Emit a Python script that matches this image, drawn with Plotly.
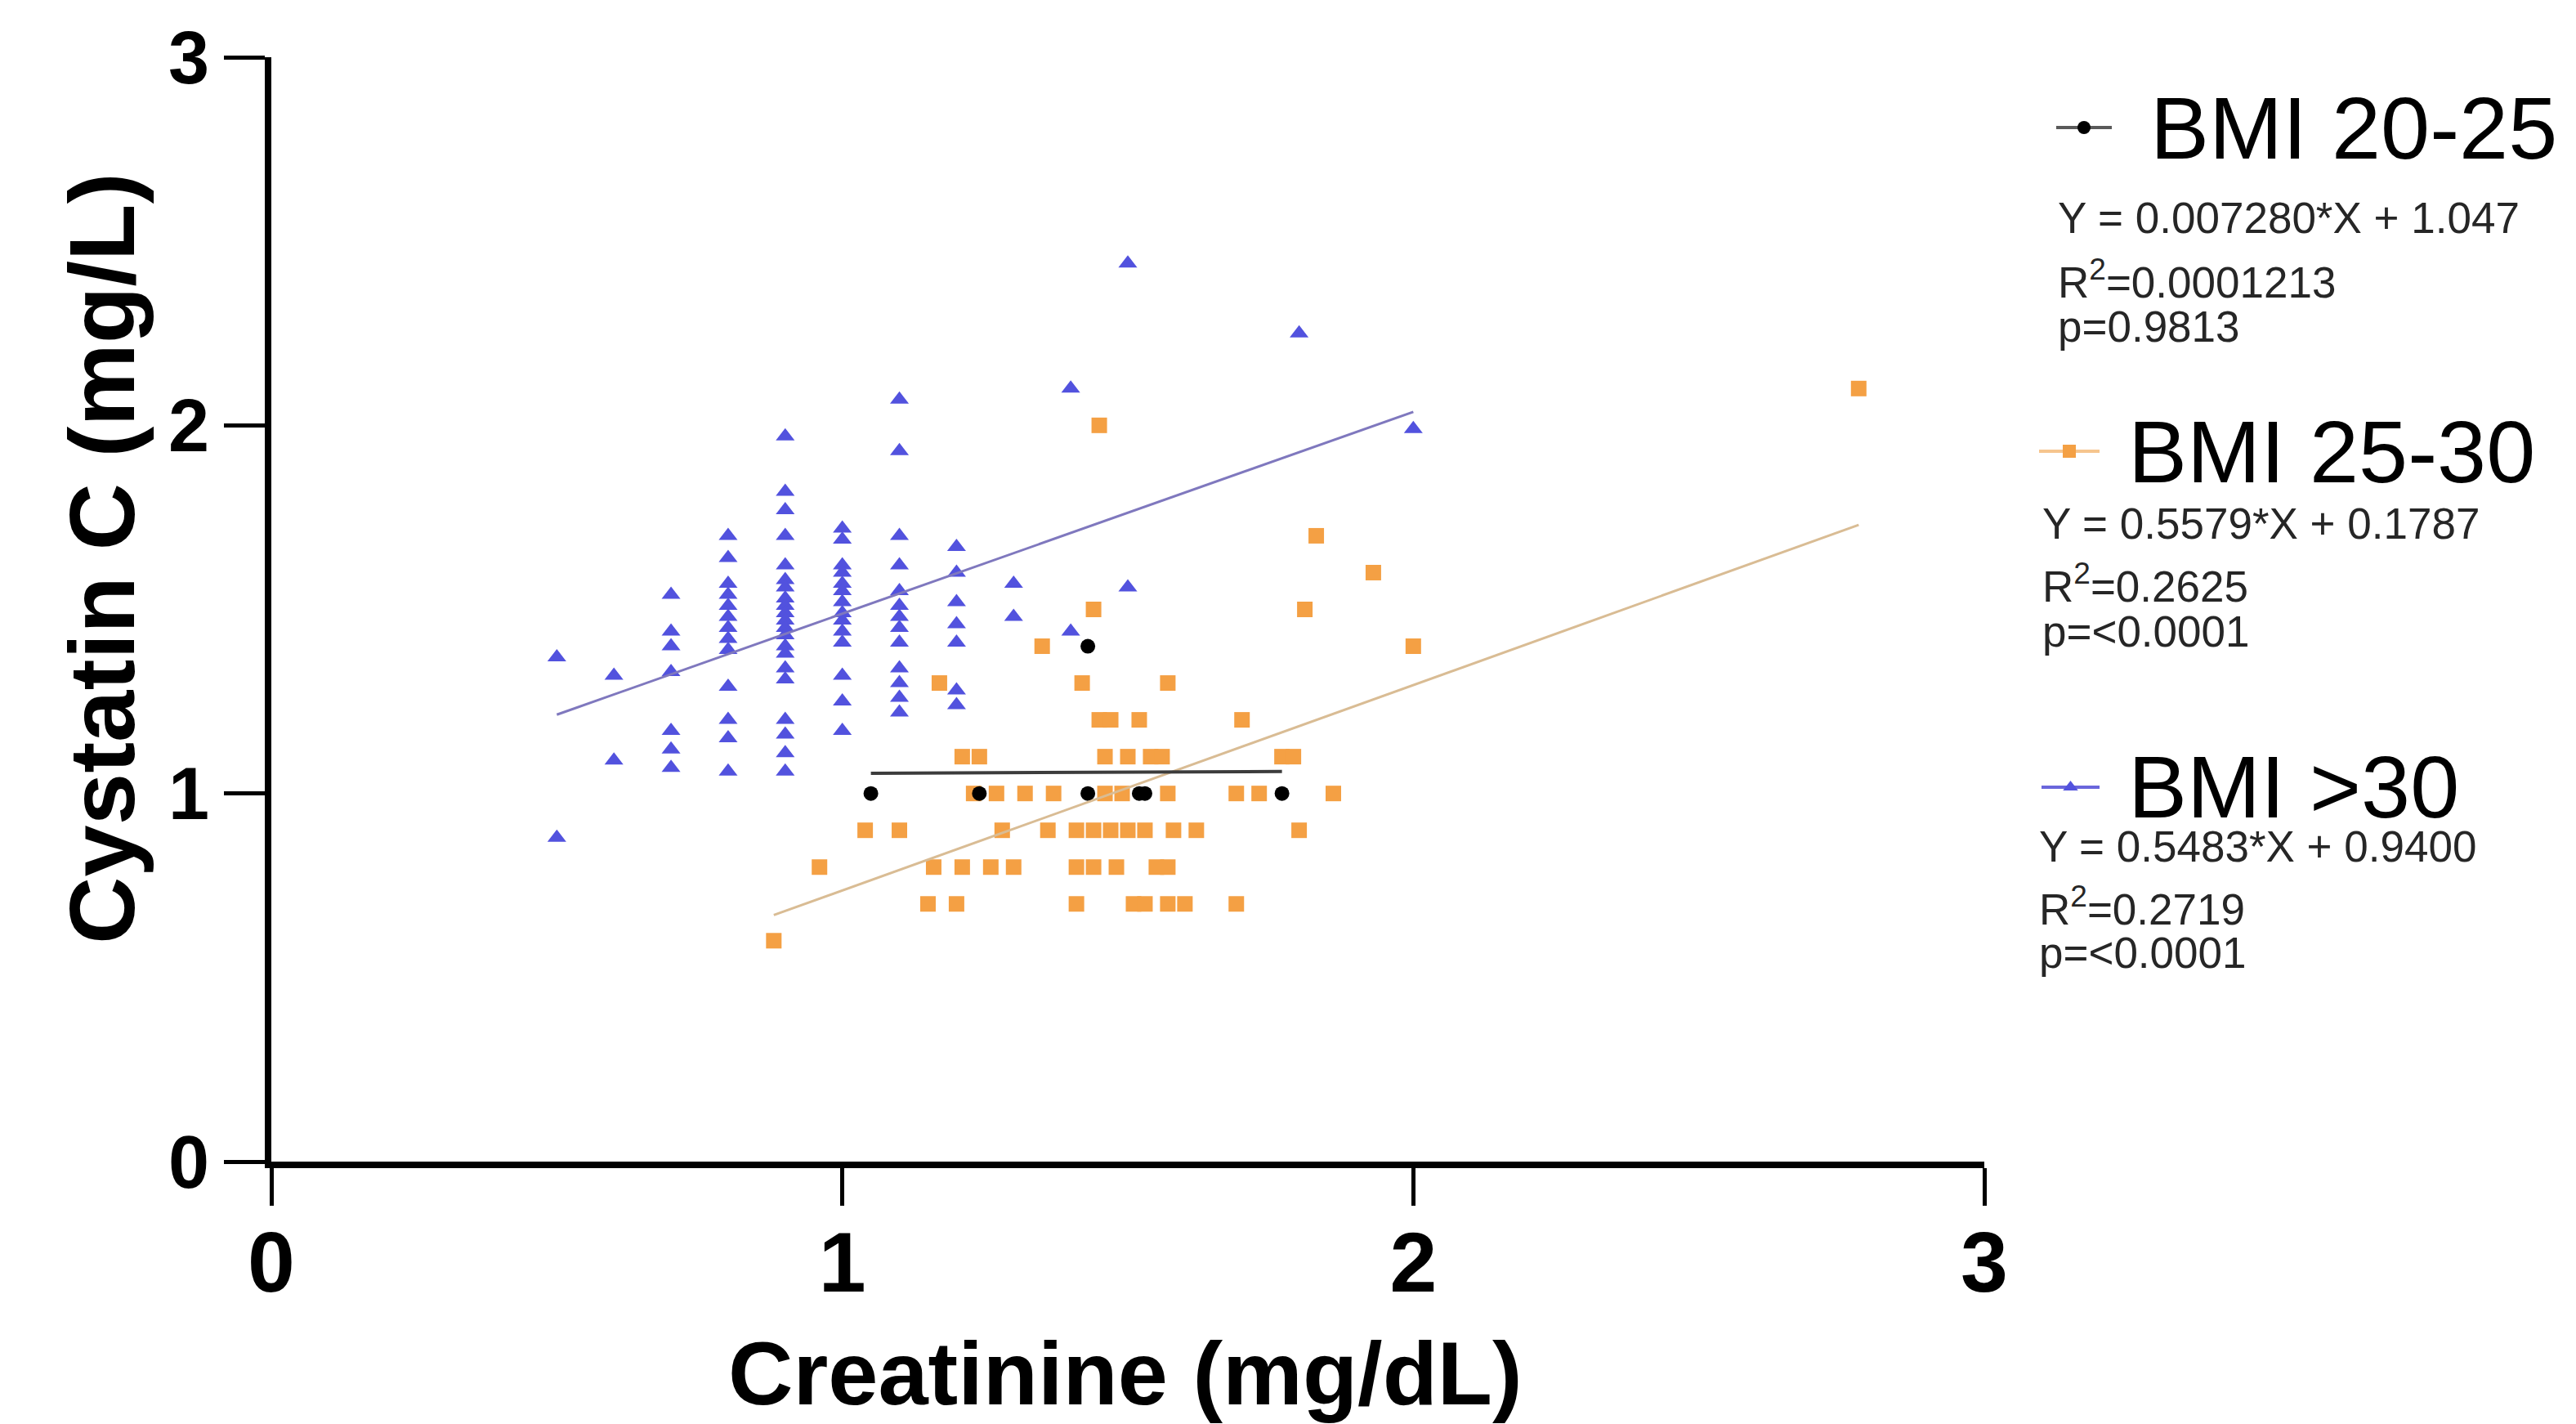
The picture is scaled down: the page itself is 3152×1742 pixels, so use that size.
import plotly.graph_objects as go

W, H = 3152, 1742

# ---------------- data ----------------
# BMI 20-25 (black circles)
bmi20_x = [1.05, 1.24, 1.43, 1.43, 1.52, 1.53, 1.77]
bmi20_y = [1.00, 1.00, 1.00, 1.40, 1.00, 1.00, 1.00]

# BMI 25-30 (orange squares)
bmi25_x = [0.88,
           1.15, 1.20, 1.41, 1.51, 1.53, 1.57, 1.60, 1.69,
           0.96, 1.16, 1.21, 1.26, 1.30, 1.41, 1.44, 1.48, 1.55, 1.57,
           1.04, 1.10, 1.28, 1.36, 1.41, 1.44, 1.47, 1.50, 1.53, 1.58, 1.62, 1.80,
           1.23, 1.27, 1.32, 1.37, 1.46, 1.49, 1.57, 1.69, 1.73, 1.86,
           1.21, 1.24, 1.46, 1.50, 1.54, 1.56, 1.77, 1.79,
           1.45, 1.47, 1.52, 1.70,
           1.17, 1.42, 1.57,
           1.35, 2.00,
           1.44, 1.81,
           1.93, 1.83, 1.45, 2.78]
bmi25_y = [0.60,
           0.70, 0.70, 0.70, 0.70, 0.70, 0.70, 0.70, 0.70,
           0.80, 0.80, 0.80, 0.80, 0.80, 0.80, 0.80, 0.80, 0.80, 0.80,
           0.90, 0.90, 0.90, 0.90, 0.90, 0.90, 0.90, 0.90, 0.90, 0.90, 0.90, 0.90,
           1.00, 1.00, 1.00, 1.00, 1.00, 1.00, 1.00, 1.00, 1.00, 1.00,
           1.10, 1.10, 1.10, 1.10, 1.10, 1.10, 1.10, 1.10,
           1.20, 1.20, 1.20, 1.20,
           1.30, 1.30, 1.30,
           1.40, 1.40,
           1.50, 1.50,
           1.60, 1.70, 2.00, 2.10]

# BMI >30 (blue triangles)
bmi30_x = [0.5, 0.5,
           0.6, 0.6,
           0.7, 0.7, 0.7, 0.7, 0.7, 0.7, 0.7,
           0.8, 0.8, 0.8, 0.8, 0.8, 0.8, 0.8, 0.8, 0.8, 0.8, 0.8, 0.8, 0.8,
           0.9, 0.9, 0.9, 0.9, 0.9, 0.9, 0.9, 0.9, 0.9, 0.9, 0.9, 0.9, 0.9, 0.9, 0.9, 0.9, 0.9, 0.9, 0.9, 0.9, 0.9,
           1.0, 1.0, 1.0, 1.0, 1.0, 1.0, 1.0, 1.0, 1.0, 1.0, 1.0, 1.0, 1.0, 1.0,
           1.1, 1.1, 1.1, 1.1, 1.1, 1.1, 1.1, 1.1, 1.1, 1.1, 1.1, 1.1, 1.1,
           1.2, 1.2, 1.2, 1.2, 1.2, 1.2, 1.2,
           1.3, 1.3,
           1.4, 1.4,
           1.5, 1.5,
           1.8, 2.0]
bmi30_y = [1.37, 0.88,
           1.32, 1.09,
           1.54, 1.44, 1.40, 1.33, 1.17, 1.12, 1.07,
           1.70, 1.64, 1.57, 1.54, 1.51, 1.48, 1.45, 1.42, 1.39, 1.29, 1.20, 1.15, 1.06,
           1.97, 1.82, 1.77, 1.70, 1.62, 1.58, 1.56, 1.53, 1.51, 1.49, 1.47, 1.45, 1.43, 1.40, 1.38, 1.34, 1.31, 1.20, 1.16, 1.11, 1.06,
           1.72, 1.69, 1.62, 1.60, 1.57, 1.55, 1.52, 1.49, 1.47, 1.44, 1.41, 1.32, 1.25, 1.17,
           2.07, 1.93, 1.70, 1.62, 1.55, 1.51, 1.48, 1.45, 1.41, 1.34, 1.30, 1.26, 1.22,
           1.67, 1.60, 1.52, 1.46, 1.41, 1.28, 1.24,
           1.57, 1.48,
           2.10, 1.44,
           2.44, 1.56,
           2.25, 1.99]

# Linear fits (as reported in the figure)
group_names = ["BMI 20-25", "BMI 25-30", "BMI >30"]
fit_slope = [0.007280, 0.5579, 0.5483]
fit_intercept = [1.047, 0.1787, 0.9400]
fit_slope_txt = ["0.007280", "0.5579", "0.5483"]
fit_intercept_txt = ["1.047", "0.1787", "0.9400"]
fit_r2_txt = ["0.0001213", "0.2625", "0.2719"]
fit_p_txt = ["0.9813", "<0.0001", "<0.0001"]

axis_ticks = [0, 1, 2, 3]

# ---------------- styles ----------------
marker_colors = ["#000000", "#F4A044", "#5252DE"]
line_colors = ["#3C3C3C", "#D9BC94", "#7F78BE"]
legend_line_colors = ["#5A5A5A", "#F6C58E", "#6A66DC"]
symbols = ["circle", "square", "triangle-up"]
msizes = [18, 19, 20]
FONT = "Liberation Sans, Arial, sans-serif"

xs = [bmi20_x, bmi25_x, bmi30_x]
ys = [bmi20_y, bmi25_y, bmi30_y]

fig = go.Figure()

# draw order: BMI >30, BMI 25-30, BMI 20-25 (black on top)
for i in [2, 1, 0]:
    fig.add_trace(go.Scatter(
        x=xs[i], y=ys[i], mode="markers",
        marker=dict(symbol=symbols[i], size=msizes[i], color=marker_colors[i],
                    line=dict(width=0)),
        xaxis="x", yaxis="y", showlegend=False, hoverinfo="x+y"))
for i in [2, 1, 0]:
    x0, x1 = min(xs[i]), max(xs[i])
    fig.add_trace(go.Scatter(
        x=[x0, x1],
        y=[fit_slope[i] * x0 + fit_intercept[i], fit_slope[i] * x1 + fit_intercept[i]],
        mode="lines", line=dict(color=line_colors[i], width=4 if i == 0 else 3),
        xaxis="x", yaxis="y", showlegend=False, hoverinfo="skip"))

# ---------------- legend block (pixel layout) ----------------
leg_symbol = [(2516, 2584, 156), (2495, 2569, 552), (2498, 2569, 963)]
leg_label = [(2629, 156), (2602, 552), (2602, 962)]
leg_eq_left = [2516, 2497, 2493]
leg_eq_y = [(267, 342, 400), (640, 714, 772), (1035, 1108, 1165)]
leg_msizes = [16, 16, 16]

annotations = []


def px(x):
    return x / W


def py(y):
    return 1 - y / H


for i in range(3):
    xa, xb, yc = leg_symbol[i]
    fig.add_trace(go.Scatter(
        x=[xa, xb], y=[yc, yc], mode="lines",
        line=dict(color=legend_line_colors[i], width=4),
        xaxis="x2", yaxis="y2", showlegend=False, hoverinfo="skip"))
    fig.add_trace(go.Scatter(
        x=[(xa + xb) / 2], y=[yc], mode="markers",
        marker=dict(symbol=symbols[i], size=leg_msizes[i], color=marker_colors[i], line=dict(width=0)),
        xaxis="x2", yaxis="y2", showlegend=False, hoverinfo="skip"))
    lx, ly = leg_label[i]
    annotations.append(dict(
        x=px(lx), y=py(ly), xref="paper", yref="paper", xanchor="left", yanchor="middle",
        text=group_names[i].replace(">", "&gt;"), showarrow=False,
        font=dict(family=FONT, size=108, color="#000000")))
    lines = [
        f"Y = {fit_slope_txt[i]}*X + {fit_intercept_txt[i]}",
        f"R<sup>2</sup>={fit_r2_txt[i]}",
        "p=" + fit_p_txt[i].replace("<", "&lt;"),
    ]
    for t, yy in zip(lines, leg_eq_y[i]):
        annotations.append(dict(
            x=px(leg_eq_left[i]), y=py(yy), xref="paper", yref="paper",
            xanchor="left", yanchor="middle", text=t, showarrow=False,
            font=dict(family=FONT, size=53, color="#262626")))

# axis titles
annotations.append(dict(
    x=px(1377), y=py(1679), xref="paper", yref="paper", xanchor="center", yanchor="middle",
    text="Creatinine (mg/dL)", showarrow=False,
    font=dict(family=FONT, size=110, color="#000000", weight="bold")))
annotations.append(dict(
    x=px(124), y=py(683), xref="paper", yref="paper", xanchor="center", yanchor="middle",
    text="Cystatin C (mg/L)", showarrow=False, textangle=-90,
    font=dict(family=FONT, size=114, color="#000000", weight="bold")))

fig.update_layout(
    width=W, height=H, autosize=False,
    margin=dict(l=0, r=0, t=0, b=0, pad=0, autoexpand=False),
    paper_bgcolor="white", plot_bgcolor="rgba(0,0,0,0)",
    showlegend=False,
    annotations=annotations,
    xaxis=dict(
        domain=[332 / W, 2428 / W], range=[0, 3], tickvals=axis_ticks,
        ticks="outside", ticklen=46, tickwidth=5, tickcolor="black",
        showline=True, linewidth=8, linecolor="black",
        showgrid=False, zeroline=False, anchor="y", automargin=False,
        tickfont=dict(family=FONT, size=104, color="black", weight="bold"),
        ticklabelstandoff=-20, fixedrange=True),
    yaxis=dict(
        domain=[(H - 1421) / H, (H - 70) / H], range=[0, 3], tickvals=axis_ticks,
        ticks="outside", ticklen=50, tickwidth=5, tickcolor="black",
        showline=True, linewidth=8, linecolor="black",
        showgrid=False, zeroline=False, anchor="x", automargin=False,
        tickfont=dict(family=FONT, size=90, color="black", weight="bold"),
        ticklabelstandoff=0, fixedrange=True),
    xaxis2=dict(domain=[0, 1], range=[0, W], visible=False, anchor="y2",
                fixedrange=True, automargin=False),
    yaxis2=dict(domain=[0, 1], range=[H, 0], visible=False, anchor="x2",
                fixedrange=True, automargin=False),
)

fig.write_html("out.html", config={"displayModeBar": False},
               post_script="document.body.style.margin='0';document.body.style.overflow='hidden';")
